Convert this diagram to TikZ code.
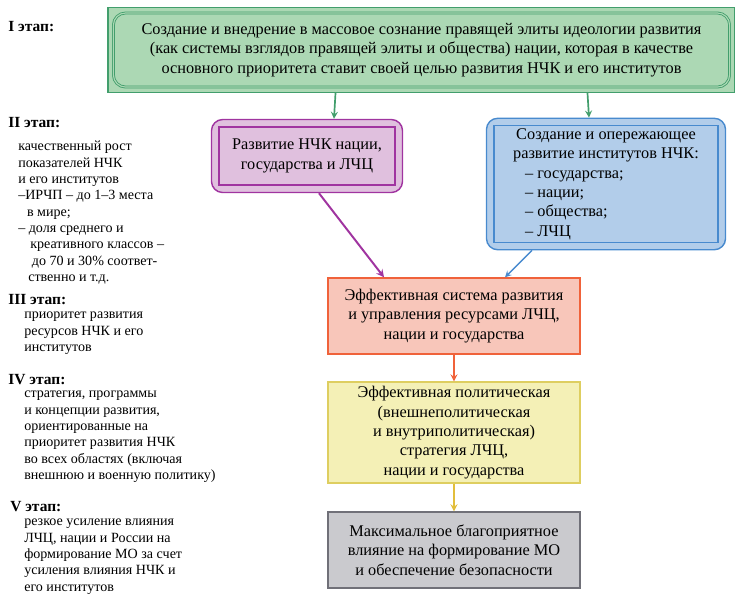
\documentclass[tikz,border=0pt]{standalone}
\usepackage{fontspec}
\setmainfont{Liberation Serif}
\usetikzlibrary{calc,fit,backgrounds}

\definecolor{greenFill}{RGB}{172,216,180}
\definecolor{greenLine}{RGB}{66,158,108}
\definecolor{magFill}{RGB}{224,192,222}
\definecolor{magLine}{RGB}{160,52,160}
\definecolor{blueFill}{RGB}{178,205,234}
\definecolor{blueLine}{RGB}{72,138,206}
\definecolor{redFill}{RGB}{248,198,186}
\definecolor{redLine}{RGB}{240,98,58}
\definecolor{yelFill}{RGB}{244,240,182}
\definecolor{yelLine}{RGB}{222,206,96}
\definecolor{yelArrow}{RGB}{226,190,60}
\definecolor{grayFill}{RGB}{202,202,206}
\definecolor{grayLine}{RGB}{112,112,120}

\tikzset{
  boxtext/.style={font=\fontsize{11.6}{13.8}\selectfont, align=center, inner sep=0pt},
  stage/.style={anchor=west, font=\fontsize{11}{13}\selectfont\bfseries, inner sep=0pt},
  stagetext/.style={anchor=north west, align=left, inner sep=0pt,
    font=\fontsize{10}{11.6}\selectfont},
  frame/.style={inner sep=0.17cm, line width=1pt},
}

\begin{document}
\begin{tikzpicture}[x=0.025cm, y=-0.025cm]
  \useasboundingbox (0,0) rectangle (735,595);

  % I этап
  \node[boxtext, draw=greenLine, fill=greenFill, line width=0.6pt, double=greenFill,
    double distance=0.8pt, rounded corners=0.3cm,
    minimum width=15.4cm, minimum height=1.85cm] (ideo) at (421.5,50)
    {Создание и внедрение в массовое сознание правящей элиты идеологии развития\\
     (как системы взглядов правящей элиты и общества) нации, которая в качестве\\
     основного приоритета ставит своей целью развития НЧК и его институтов};

  % II этап
  \node[boxtext, draw=magLine, fill=magFill, line width=1pt,
    minimum width=4.4cm, minimum height=1.45cm] (nchk) at (307,156)
    {Развитие НЧК нации,\\государства и ЛЧЦ};
  \node[boxtext, draw=blueLine, fill=blueFill, line width=1pt,
    minimum width=5.6cm, minimum height=2.85cm] (inst) at (606,184)
    {\begin{tabular}{@{}l@{}}
       \multicolumn{1}{@{}c@{}}{Создание и опережающее}\\
       \multicolumn{1}{@{}c@{}}{развитие институтов НЧК:}\\
       \hspace*{0.3cm}– государства;\\
       \hspace*{0.3cm}– нации;\\
       \hspace*{0.3cm}– общества;\\
       \hspace*{0.3cm}– ЛЧЦ
     \end{tabular}};

  % внешние рамки
  \begin{scope}[on background layer]
    \node[frame, fit=(ideo), inner sep=0.125cm, draw=greenLine, fill=greenFill] (ideoF) {};
    \node[frame, fit=(nchk), draw=magLine, fill=magFill, rounded corners=0.28cm] (nchkF) {};
    \node[frame, fit=(inst), draw=blueLine, fill=blueFill, rounded corners=0.28cm] (instF) {};
  \end{scope}

  % III -- V этапы
  \node[boxtext, draw=redLine, fill=redFill, line width=1pt,
    minimum width=6.3cm, minimum height=1.9cm] (res) at (454,316)
    {Эффективная система развития\\и управления ресурсами ЛЧЦ,\\нации и государства};
  \node[boxtext, draw=yelLine, fill=yelFill, line width=1pt,
    minimum width=6.3cm, minimum height=2.52cm] (pol) at (454,432.5)
    {Эффективная политическая\\(внешнеполитическая\\и внутриполитическая)\\
     стратегия ЛЧЦ,\\нации и государства};
  \node[boxtext, draw=grayLine, fill=grayFill, line width=1pt,
    minimum width=6.3cm, minimum height=1.9cm] (mo) at (454,550)
    {Максимальное благоприятное\\влияние на формирование МО\\и обеспечение безопасности};

  % стрелки
  \draw[greenLine, line width=1.2pt, -stealth] ($(ideoF.south)+(-86,0)$) -- ($(nchkF.north)+(27,0)$);
  \draw[greenLine, line width=1.2pt, -stealth] ($(ideoF.south)+(166,0)$) -- ($(instF.north)+(-17,0)$);
  \draw[magLine, line width=1.4pt, -stealth] ($(nchkF.south)+(12,0)$) -- ($(res.north)+(-70,0)$);
  \draw[blueLine, line width=1pt, -stealth] ($(instF.south)+(-74,0)$) -- ($(res.north)+(51,0)$);
  \draw[redLine, line width=1.2pt, -stealth] (res) -- (pol);
  \draw[yelArrow, line width=1.2pt, -stealth] (pol) -- (mo);

  % этапы слева
  \node[stage] (st1) at (8,27) {I этап:};
  \node[stage] (st2) at (8,123) {II этап:};
  \node[stagetext] (st2t) at (18,141)
    {качественный рост\\показателей НЧК\\и его институтов\\–ИРЧП – до 1–3 места\\
     \hspace*{0.22cm}в мире;\\– доля среднего и\\\hspace*{0.3cm}креативного классов –\\
     \hspace*{0.34cm}до 70 и 30\% соответ-\\\hspace*{0.25cm}ственно и т.д.};
  \node[stage] (st3) at (8,300) {III этап:};
  \node[stagetext] (st3t) at (24,312)
    {приоритет развития\\ресурсов НЧК и его\\институтов};
  \node[stage] (st4) at (8,380) {IV этап:};
  \node[stagetext] (st4t) at (24,391)
    {стратегия, программы\\и концепции развития,\\ориентированные на\\
     приоритет развития НЧК\\во всех областях (включая\\внешнюю и военную политику)};
  \node[stage] (st5) at (10,507) {V этап:};
  \node[stagetext] (st5t) at (24,519)
    {резкое усиление влияния\\ЛЧЦ, нации и России на\\формирование МО за счет\\
     усиления влияния НЧК и\\его институтов};
\end{tikzpicture}
\end{document}
